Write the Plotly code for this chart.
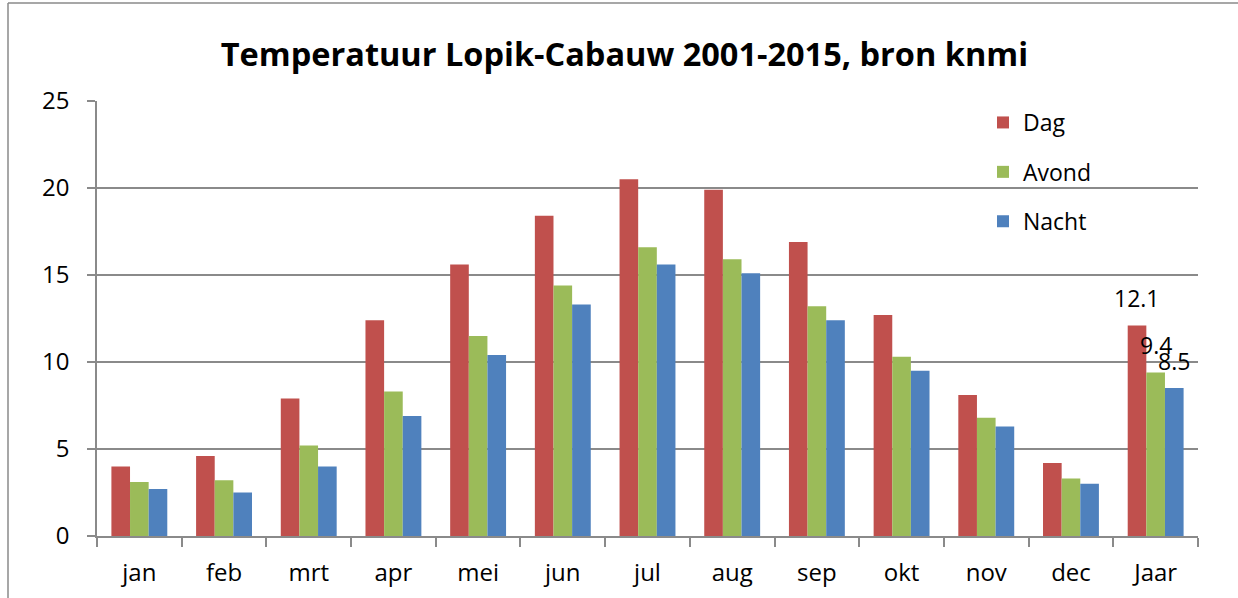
import plotly.graph_objects as go

# ---- data ----
categories = ["jan", "feb", "mrt", "apr", "mei", "jun", "jul", "aug", "sep", "okt", "nov", "dec", "Jaar"]
dag = [4.0, 4.6, 7.9, 12.4, 15.6, 18.4, 20.5, 19.9, 16.9, 12.7, 8.1, 4.2, 12.1]
avond = [3.1, 3.2, 5.2, 8.3, 11.5, 14.4, 16.6, 15.9, 13.2, 10.3, 6.8, 3.3, 9.4]
nacht = [2.7, 2.5, 4.0, 6.9, 10.4, 13.3, 15.6, 15.1, 12.4, 9.5, 6.3, 3.0, 8.5]
series_names = ["Dag", "Avond", "Nacht"]
series_values = [dag, avond, nacht]
colors = ["#C0504D", "#9BBB59", "#4F81BD"]
y_ticks = [0, 5, 10, 15, 20, 25]
title_text = "Temperatuur Lopik-Cabauw 2001-2015, bron knmi"

FONT = "Open Sans"
W, H = 1238, 598
L, R, T, B = 97, 40, 101, 62
plot_w = W - L - R
plot_h = H - T - B

def px_x(px):
    return (px - L) / plot_w

def px_y(py):
    return (H - B - py) / plot_h

fig = go.Figure()
for name, vals, col in zip(series_names, series_values, colors):
    fig.add_trace(go.Bar(
        x=categories, y=vals, name=name, legendgroup=name,
        marker=dict(color=col, line=dict(width=0)),
    ))

# data labels for the last category (Jaar)
bargap = 0.34
bar_w = plot_w / len(categories) * (1 - bargap) / 3
for i, vals in enumerate(series_values):
    fig.add_annotation(
        x=categories[-1], y=vals[-1], xref="x", yref="y",
        text=f"{vals[-1]:.1f}", showarrow=False,
        xshift=(i - 1) * bar_w, yshift=27,
        font=dict(family=FONT, size=23, color="#000000"),
    )

grid_col = "#8a8a8a"
fig.update_layout(
    width=W, height=H,
    margin=dict(l=L, r=R, t=T, b=B, autoexpand=False),
    paper_bgcolor="white", plot_bgcolor="white",
    barmode="group", bargap=bargap, bargroupgap=0,
    title=dict(text=f"<b>{title_text}</b>", x=0.5044, xref="container", xanchor="center",
               y=1 - 55 / H, yref="container", yanchor="middle",
               font=dict(family=FONT, size=32.5, color="#000000")),
    font=dict(family=FONT, size=24, color="#000000"),
    legend=dict(x=px_x(983), y=px_y(101), xanchor="left", yanchor="top",
                bgcolor="rgba(0,0,0,0)", font=dict(family=FONT, size=23, color="#000000"),
                tracegroupgap=16.5, traceorder="grouped", itemwidth=30),
    showlegend=True,
)
fig.update_xaxes(
    type="category", showgrid=False, showline=True, linecolor=grid_col, linewidth=1.5,
    ticks="outside", tickson="boundaries", ticklen=9, tickcolor=grid_col, tickwidth=1.5,
    tickfont=dict(family=FONT, size=24, color="#000000"), ticklabelstandoff=14, fixedrange=True,
)
fig.update_yaxes(
    range=[0, 25], tickvals=y_ticks, showgrid=True, gridcolor=grid_col, gridwidth=1.5,
    showline=True, linecolor=grid_col, linewidth=1.5, zeroline=False,
    ticks="outside", ticklen=8, tickcolor=grid_col, tickwidth=1.5,
    tickfont=dict(family=FONT, size=24, color="#000000"), ticklabelstandoff=13,
)

# chart area border (left and top edges visible)
fig.add_shape(type="line", xref="paper", yref="paper",
              x0=px_x(8), x1=px_x(8), y0=px_y(3), y1=px_y(H + 5),
              line=dict(color=grid_col, width=1.5))
fig.add_shape(type="line", xref="paper", yref="paper",
              x0=px_x(8), x1=px_x(W + 5), y0=px_y(3), y1=px_y(3),
              line=dict(color=grid_col, width=1.5))

fig.write_html("out.html", config={"displayModeBar": False},
               post_script="document.body.style.margin='0px';")
